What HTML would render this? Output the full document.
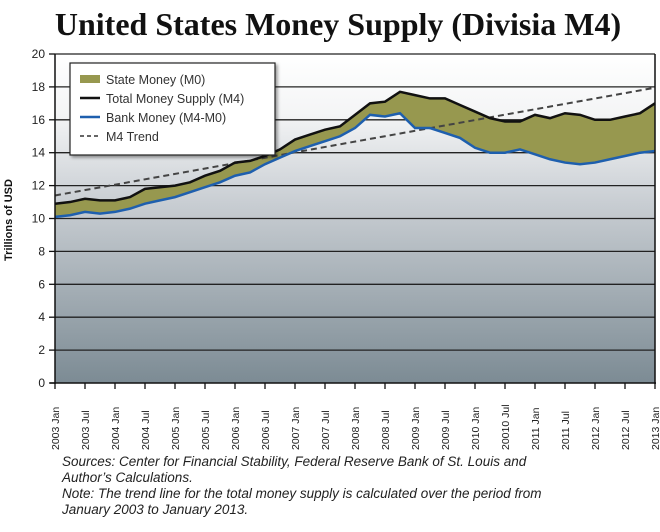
<!DOCTYPE html>
<html><head><meta charset="utf-8"><style>
body{margin:0;background:#fff;width:660px;height:527px;overflow:hidden;font-family:"Liberation Sans",sans-serif}
</style></head><body>
<svg width="660" height="527">
<defs>
<linearGradient id="bg" x1="0" y1="0" x2="0" y2="1">
<stop offset="0" stop-color="#ffffff"/><stop offset="0.18" stop-color="#f4f5f6"/><stop offset="0.45" stop-color="#c9ced3"/><stop offset="1" stop-color="#7c8b94"/>
</linearGradient>
<filter id="sh"><feDropShadow dx="2" dy="2" stdDeviation="1.5" flood-opacity="0.4"/></filter>
</defs>
<text x="338" y="35" text-anchor="middle" font-family="Liberation Serif,serif" font-weight="bold" font-size="32" fill="#111">United States Money Supply (Divisia M4)</text>
<rect x="55" y="54" width="600" height="329" fill="url(#bg)"/>
<g id="grid"></g>
<g id="series"></g>
<line x1="55" y1="54" x2="55" y2="384" stroke="#111" stroke-width="1.5"/>
<line x1="655" y1="54" x2="655" y2="384" stroke="#111" stroke-width="1.5"/>
<line x1="50" y1="383" x2="656" y2="383" stroke="#111" stroke-width="1.5"/>
<g id="ticks"></g>
<text transform="translate(12,220) rotate(-90)" text-anchor="middle" font-size="11" font-weight="bold" fill="#111">Trillions of USD</text>
<g filter="url(#sh)">
<rect x="70" y="63" width="205" height="92" fill="#fff" stroke="#222" stroke-width="1.2"/>
</g>
<g font-size="12.5" fill="#333">
<rect x="80" y="75" width="20" height="8" fill="#97984f"/>
<text x="106" y="84">State Money (M0)</text>
<line x1="80" y1="98" x2="100" y2="98" stroke="#111" stroke-width="2.5"/>
<text x="106" y="103">Total Money Supply (M4)</text>
<line x1="80" y1="117" x2="100" y2="117" stroke="#1e5fae" stroke-width="2.5"/>
<text x="106" y="122">Bank Money (M4-M0)</text>
<line x1="80" y1="136" x2="100" y2="136" stroke="#333" stroke-width="1.5" stroke-dasharray="4,3"/>
<text x="106" y="141">M4 Trend</text>
</g>
<g font-family="Liberation Sans,sans-serif" font-style="italic" font-size="13.5" fill="#222">
<text x="62" y="466">Sources: Center for Financial Stability, Federal Reserve Bank of St. Louis and</text>
<text x="62" y="482">Author’s Calculations.</text>
<text x="62" y="498">Note: The trend line for the total money supply is calculated over the period from</text>
<text x="62" y="514">January 2003 to January 2013.</text>
</g>
</svg>
<script>
const xLabels=["2003 Jan","2003 Jul","2004 Jan","2004 Jul","2005 Jan","2005 Jul","2006 Jan","2006 Jul","2007 Jan","2007 Jul","2008 Jan","2008 Jul","2009 Jan","2009 Jul","2010 Jan","20010 Jul","2011 Jan","2011 Jul","2012 Jan","2012 Jul","2013 Jan"];
const yTicks=[0,2,4,6,8,10,12,14,16,18,20];
const m4=[10.9,11.0,11.2,11.1,11.1,11.3,11.8,11.9,12.0,12.2,12.6,12.9,13.4,13.5,13.8,14.2,14.8,15.1,15.4,15.6,16.3,17.0,17.1,17.7,17.5,17.3,17.3,16.9,16.5,16.1,15.9,15.9,16.3,16.1,16.4,16.3,16.0,16.0,16.2,16.4,17.0];
const bank=[10.1,10.2,10.4,10.3,10.4,10.6,10.9,11.1,11.3,11.6,11.9,12.2,12.6,12.8,13.3,13.7,14.1,14.4,14.7,15.0,15.5,16.3,16.2,16.4,15.5,15.5,15.2,14.9,14.3,14.0,14.0,14.2,13.9,13.6,13.4,13.3,13.4,13.6,13.8,14.0,14.1];
const trend=[11.4,17.95];
const NS="http://www.w3.org/2000/svg";
const X=i=>55+i*(600/(m4.length-1));
const Y=v=>383-v*(329/20);
function mk(t,a,p){const e=document.createElementNS(NS,t);for(const k in a)e.setAttribute(k,a[k]);p.appendChild(e);return e;}
const grid=document.getElementById('grid'),ser=document.getElementById('series'),tk=document.getElementById('ticks');
yTicks.forEach(v=>{
 if(v>0){const g=mk('line',{x1:55,x2:655,y1:Y(v),y2:Y(v),stroke:'#222','stroke-width':1.3},grid);
 
 }
 mk('line',{x1:49,x2:55,y1:Y(v),y2:Y(v),stroke:'#111','stroke-width':1.3},tk);
 const t=mk('text',{x:45,y:Y(v)+4,'text-anchor':'end','font-size':12,fill:'#222'},tk);t.textContent=v;
 
 
});
xLabels.forEach((l,i)=>{
 const x=55+i*30;
 mk('line',{x1:x,x2:x,y1:383,y2:389,stroke:'#111','stroke-width':1.3},tk);
 const t=mk('text',{transform:`translate(${x+4},${450}) rotate(-90)`,'font-size':10.5,fill:'#222'},tk);t.textContent=l;
 
 
});
const topPts=m4.map((v,i)=>X(i)+','+Y(v)).join(' ');
const botPts=bank.map((v,i)=>X(i)+','+Y(v)).reverse().join(' ');
const area=mk('polygon',{points:topPts+' '+botPts,fill:'#97984f'},ser);


const tr=mk('line',{x1:55,y1:Y(trend[0]),x2:655,y2:Y(trend[1]),stroke:'#444','stroke-width':2,'stroke-dasharray':'6,4'},ser);


const bl=mk('polyline',{points:bank.map((v,i)=>X(i)+','+Y(v)).join(' '),fill:'none',stroke:'#1e5fae','stroke-width':2.5},ser);


const ml=mk('polyline',{points:topPts,fill:'none',stroke:'#111','stroke-width':2.5},ser);


</script>
</body></html>
